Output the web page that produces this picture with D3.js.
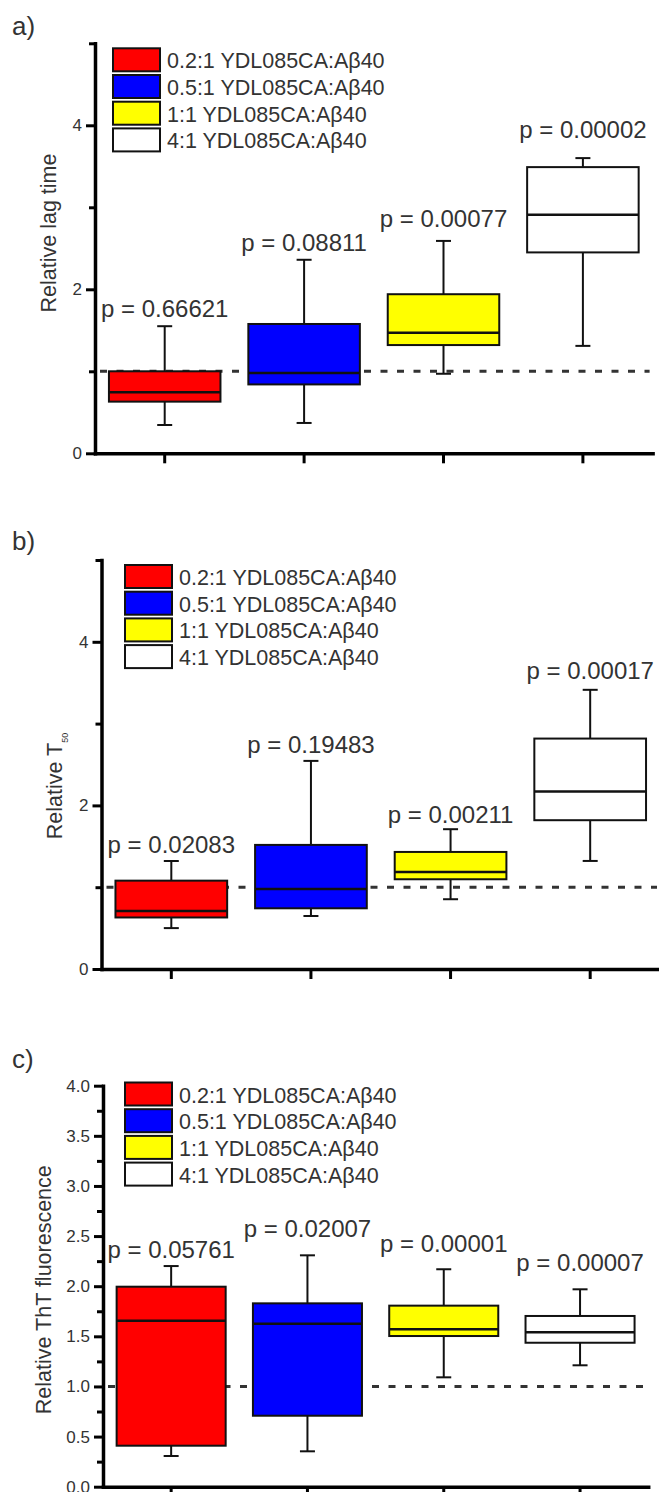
<!DOCTYPE html>
<html>
<head>
<meta charset="utf-8">
<script src="https://cdn.jsdelivr.net/npm/d3@7"></script>
<style>
  html, body { margin: 0; padding: 0; background: #fff; }
  svg { display: block; }
</style>
</head>
<body>
<script>
// Molar ratios of YDL085CA to Aβ40 (one box per ratio)
const groups = ["0.2:1 YDL085CA:Aβ40", "0.5:1 YDL085CA:Aβ40", "1:1 YDL085CA:Aβ40", "4:1 YDL085CA:Aβ40"];

// Box statistics per group: [whisker low, Q1, median, Q3, whisker high]
const lagTime = [
  [0.345, 0.63, 0.745, 1.00, 1.55],
  [0.37, 0.84, 0.98, 1.577, 2.36],
  [0.97, 1.32, 1.47, 1.94, 2.59],
  [1.31, 2.45, 2.91, 3.49, 3.60]
];
const t50 = [
  [0.50, 0.63, 0.71, 1.08, 1.32],
  [0.648, 0.742, 0.979, 1.517, 2.544],
  [0.853, 1.097, 1.187, 1.431, 1.709],
  [1.321, 1.819, 2.169, 2.817, 3.413]
];
const thtFluorescence = [
  [0.306, 0.409, 1.656, 1.995, 2.201],
  [0.353, 0.708, 1.626, 1.829, 2.308],
  [1.091, 1.503, 1.570, 1.806, 2.169],
  [1.211, 1.436, 1.540, 1.703, 1.969]
];

// p-values printed above each box
const lagP = ["0.66621", "0.08811", "0.00077", "0.00002"];
const t50P = ["0.02083", "0.19483", "0.00211", "0.00017"];
const thtP = ["0.05761", "0.02007", "0.00001", "0.00007"];

// Axis ticks
const lagTicks = [0, 2, 4];
const lagMinor = [1, 3, 5];
const t50Ticks = [0, 2, 4];
const t50Minor = [1, 3, 5];
const thtTicks = [0, 0.5, 1, 1.5, 2, 2.5, 3, 3.5, 4];
const thtMinor = [0.25, 0.75, 1.25, 1.75, 2.25, 2.75, 3.25, 3.75];

// Reference level (untreated = 1)
const referenceLevel = 1;

const fills = ["#ff0000", "#0000ff", "#ffff00", "#ffffff"];
const FONT = "'Liberation Sans', Arial, Helvetica, sans-serif";
const TEXT = "#333";

const panels = [
  { letter: "a)", letterY: 34.5, stats: lagTime, p: lagP, title: ["Relative lag time"],
    domain: [0, 5], major: lagTicks, minor: lagMinor, fmt: d3.format("d"),
    x0: 95, x1: 652.6, yTop: 43.3, yZero: 453.3,
    legendX: 113, legendY: 48.3, lift: [9, 9, 14, 20], titleX: 56, titleY: 233 },
  { letter: "b)", letterY: 549.5, stats: t50, p: t50P, title: ["Relative T", "50"],
    domain: [0, 5], major: t50Ticks, minor: t50Minor, fmt: d3.format("d"),
    x0: 101.5, x1: 660, yTop: 560, yZero: 969,
    legendX: 125, legendY: 565, lift: [8, 8, 6, 11], titleX: 62, titleY: 786 },
  { letter: "c)", letterY: 1067.5, stats: thtFluorescence, p: thtP, title: ["Relative ThT fluorescence"],
    domain: [0, 4], major: thtTicks, minor: thtMinor, fmt: d3.format(".1f"),
    x0: 103, x1: 648.2, yTop: 1085.7, yZero: 1486.7,
    legendX: 125, legendY: 1082.5, lift: [8, 18.6, 17.6, 18.6], titleX: 50.5, titleY: 1289.7 }
];

const svg = d3.select("body").append("svg")
  .attr("width", 659).attr("height", 1492)
  .style("font-family", FONT);

panels.forEach(P => {
  const g = svg.append("g");

  const x = d3.scaleBand().domain(d3.range(groups.length)).range([P.x0, P.x1]).padding(0);
  const y = d3.scaleLinear().domain(P.domain).range([P.yZero, P.yTop]);
  const boxW = x.bandwidth() * 0.8;
  const capW = 15;

  // panel letter
  g.append("text").attr("x", 12).attr("y", P.letterY)
    .attr("font-size", 26).attr("fill", TEXT).text(P.letter);

  // dashed reference line (drawn beneath the boxes)
  g.append("line")
    .attr("x1", P.x0 + 5).attr("x2", P.x1 - 3)
    .attr("y1", y(referenceLevel)).attr("y2", y(referenceLevel))
    .attr("stroke", "#333").attr("stroke-width", 3)
    .attr("stroke-dasharray", "7,9.5");

  // boxes
  const box = g.selectAll("g.box").data(P.stats).join("g").attr("class", "box")
    .attr("transform", (d, i) => `translate(${x(i) + x.bandwidth() / 2},0)`);

  box.append("line")
    .attr("x1", 0).attr("x2", 0)
    .attr("y1", d => y(d[0])).attr("y2", d => y(d[4]))
    .attr("stroke", "#111").attr("stroke-width", 2);
  box.append("line").attr("class", "cap")
    .attr("x1", -capW / 2).attr("x2", capW / 2)
    .attr("y1", d => y(d[0])).attr("y2", d => y(d[0]))
    .attr("stroke", "#111").attr("stroke-width", 2);
  box.append("line").attr("class", "cap")
    .attr("x1", -capW / 2).attr("x2", capW / 2)
    .attr("y1", d => y(d[4])).attr("y2", d => y(d[4]))
    .attr("stroke", "#111").attr("stroke-width", 2);
  box.append("rect")
    .attr("x", -boxW / 2).attr("width", boxW)
    .attr("y", d => y(d[3])).attr("height", d => y(d[1]) - y(d[3]))
    .attr("fill", (d, i) => fills[i])
    .attr("stroke", "#111").attr("stroke-width", 2);
  box.append("line")
    .attr("x1", -boxW / 2).attr("x2", boxW / 2)
    .attr("y1", d => y(d[2])).attr("y2", d => y(d[2]))
    .attr("stroke", "#111").attr("stroke-width", 2.5);

  // p-value labels
  box.append("text")
    .attr("x", 0)
    .attr("y", (d, i) => y(d[4]) - P.lift[i])
    .attr("text-anchor", "middle")
    .attr("font-size", 24).attr("fill", TEXT)
    .text((d, i) => "p = " + P.p[i]);

  // y axis: labelled major ticks and short minor ticks
  const yAxis = g.append("g").attr("transform", `translate(${P.x0},0)`)
    .call(d3.axisLeft(y).tickValues(P.major).tickFormat(P.fmt).tickSize(9).tickSizeOuter(0).tickPadding(4));
  yAxis.select(".domain").attr("stroke", "#000").attr("stroke-width", 3.5).attr("stroke-linecap", "square");
  yAxis.selectAll(".tick line").attr("stroke", "#000").attr("stroke-width", 3);
  yAxis.selectAll(".tick text").attr("font-size", 17).attr("fill", TEXT).attr("font-family", FONT);

  const yMinor = g.append("g").attr("transform", `translate(${P.x0},0)`)
    .call(d3.axisLeft(y).tickValues(P.minor).tickFormat("").tickSize(6).tickSizeOuter(0));
  yMinor.select(".domain").remove();
  yMinor.selectAll(".tick line").attr("stroke", "#000").attr("stroke-width", 3);

  // x axis with ticks below each box
  const xAxis = g.append("g").attr("transform", `translate(0,${P.yZero})`)
    .call(d3.axisBottom(x).tickFormat("").tickSize(10).tickSizeOuter(0));
  xAxis.select(".domain").attr("stroke", "#000").attr("stroke-width", 3.5).attr("stroke-linecap", "square");
  xAxis.selectAll(".tick line").attr("stroke", "#000").attr("stroke-width", 3);

  // y axis title
  const title = g.append("text")
    .attr("transform", `translate(${P.titleX},${P.titleY}) rotate(-90)`)
    .attr("text-anchor", "middle")
    .attr("font-size", 21.5).attr("fill", TEXT);
  title.append("tspan").text(P.title[0]);
  if (P.title[1]) {
    title.append("tspan").attr("font-size", 9).attr("dy", 6).text(P.title[1]);
  }

  // legend
  const leg = g.selectAll("g.leg").data(groups).join("g").attr("class", "leg")
    .attr("transform", (d, i) => `translate(${P.legendX},${P.legendY + i * 26.7})`);
  leg.append("rect")
    .attr("width", 47).attr("height", 23)
    .attr("fill", (d, i) => fills[i])
    .attr("stroke", "#111").attr("stroke-width", 2);
  leg.append("text")
    .attr("x", 54).attr("y", 20)
    .attr("font-size", 21.5).attr("fill", TEXT)
    .text(d => d);
});
</script>
</body>
</html>
